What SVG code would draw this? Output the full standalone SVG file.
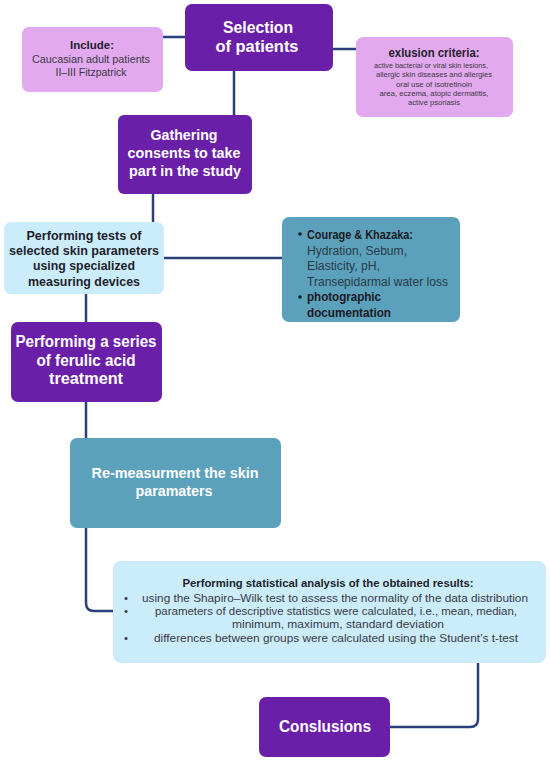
<svg xmlns="http://www.w3.org/2000/svg" width="550" height="762" viewBox="0 0 550 762">
<style>
.purple{fill:#6a1fa9}
.pink{fill:#e3a9ef}
.light{fill:#cbecfb}
.teal{fill:#5ba1bb}
.conn{fill:none;stroke:#2b3f7a;stroke-width:2.5}
text{font-family:"Liberation Sans","Arial",sans-serif;text-anchor:middle}
.wb{fill:#ffffff;font-weight:700}
.db{fill:#1e1e2a;font-weight:700}
.dn{fill:#3a3a44}
.ck{text-anchor:start;font-size:12.5px}
</style>
<rect width="550" height="762" fill="#ffffff"/>
<g id="connectors">
<line class="conn" x1="162" y1="37" x2="186" y2="37"/>
<line class="conn" x1="332" y1="49" x2="357" y2="49"/>
<line class="conn" x1="234" y1="70" x2="234" y2="116"/>
<line class="conn" x1="153" y1="193" x2="153" y2="223"/>
<line class="conn" x1="164" y1="258" x2="282" y2="258"/>
<line class="conn" x1="86" y1="294" x2="86" y2="322"/>
<path class="conn" d="M86 401 V603 Q86 611 94 611 H114"/>
<path class="conn" d="M478 662 V719 Q478 727 470 727 H389"/>
</g>
<g id="selection">
<rect class="purple" x="185" y="4" width="148" height="67" rx="7"/>
<text class="wb" x="258" y="33" font-size="16.5" textLength="70" lengthAdjust="spacingAndGlyphs">Selection</text>
<text class="wb" x="257" y="52" font-size="16.5" textLength="83" lengthAdjust="spacingAndGlyphs">of patients</text>
</g>
<g id="include">
<rect class="pink" x="22" y="27" width="141" height="65" rx="7"/>
<text class="db" x="92" y="49" font-size="11" textLength="44" lengthAdjust="spacingAndGlyphs">Include:</text>
<text class="dn" x="91" y="63" font-size="11" textLength="118" lengthAdjust="spacingAndGlyphs">Caucasian adult patients</text>
<text class="dn" x="91" y="76" font-size="11" textLength="71" lengthAdjust="spacingAndGlyphs">II–III Fitzpatrick</text>
</g>
<g id="exclusion">
<rect class="pink" x="356" y="37" width="157" height="80" rx="7"/>
<text class="db" x="434" y="57" font-size="12" textLength="91" lengthAdjust="spacingAndGlyphs">exlusion criteria:</text>
<text class="dn" x="431" y="68" font-size="8" textLength="114" lengthAdjust="spacingAndGlyphs">active bacterial or viral skin lesions,</text>
<text class="dn" x="434" y="77" font-size="8" textLength="116" lengthAdjust="spacingAndGlyphs">allergic skin diseases and allergies</text>
<text class="dn" x="434" y="87" font-size="8" textLength="76" lengthAdjust="spacingAndGlyphs">oral use of isotretinoin</text>
<text class="dn" x="434" y="96" font-size="8" textLength="109" lengthAdjust="spacingAndGlyphs">area, eczema, atopic dermatitis,</text>
<text class="dn" x="434" y="105" font-size="8" textLength="52" lengthAdjust="spacingAndGlyphs">active psoriasis</text>
</g>
<g id="gathering">
<rect class="purple" x="118" y="115" width="134" height="79" rx="6"/>
<text class="wb" x="184" y="140" font-size="14.5" textLength="67" lengthAdjust="spacingAndGlyphs">Gathering</text>
<text class="wb" x="184" y="158" font-size="14.5" textLength="113" lengthAdjust="spacingAndGlyphs">consents to take</text>
<text class="wb" x="185" y="176" font-size="14.5" textLength="112" lengthAdjust="spacingAndGlyphs">part in the study</text>
</g>
<g id="tests">
<rect class="light" x="4" y="222" width="160" height="72" rx="7"/>
<text class="db" x="84" y="240" font-size="13" textLength="115" lengthAdjust="spacingAndGlyphs">Performing tests of</text>
<text class="db" x="84" y="255" font-size="13" textLength="150" lengthAdjust="spacingAndGlyphs">selected skin parameters</text>
<text class="db" x="84" y="270" font-size="13" textLength="102" lengthAdjust="spacingAndGlyphs">using specialized</text>
<text class="db" x="84" y="286" font-size="13" textLength="112" lengthAdjust="spacingAndGlyphs">measuring devices</text>
</g>
<g id="courage">
<rect class="teal" x="282" y="217" width="178" height="105" rx="7"/>
<circle cx="300" cy="234" r="1.8" fill="#1a1a22"/>
<text class="ck" x="307" y="239" font-weight="700" fill="#1a1a22" textLength="106" lengthAdjust="spacingAndGlyphs">Courage &amp; Khazaka:</text>
<text class="ck" x="307" y="255" fill="#2a3a48" textLength="100" lengthAdjust="spacingAndGlyphs">Hydration, Sebum,</text>
<text class="ck" x="307" y="270" fill="#2a3a48" textLength="73" lengthAdjust="spacingAndGlyphs">Elasticity, pH,</text>
<text class="ck" x="307" y="286" fill="#2a3a48" textLength="141" lengthAdjust="spacingAndGlyphs">Transepidarmal water loss</text>
<circle cx="300" cy="297" r="1.8" fill="#1a1a22"/>
<text class="ck" x="307" y="301" font-weight="700" fill="#1a1a22" textLength="74" lengthAdjust="spacingAndGlyphs">photographic</text>
<text class="ck" x="307" y="317" font-weight="700" fill="#1a1a22" textLength="84" lengthAdjust="spacingAndGlyphs">documentation</text>
</g>
<g id="ferulic">
<rect class="purple" x="11" y="322" width="151" height="80" rx="7"/>
<text class="wb" x="86" y="347" font-size="16" textLength="141" lengthAdjust="spacingAndGlyphs">Performing a series</text>
<text class="wb" x="86" y="366" font-size="16" textLength="99" lengthAdjust="spacingAndGlyphs">of ferulic acid</text>
<text class="wb" x="86" y="384" font-size="16" textLength="74" lengthAdjust="spacingAndGlyphs">treatment</text>
</g>
<g id="remeasure">
<rect class="teal" x="70" y="438" width="211" height="90" rx="7"/>
<text class="wb" x="175" y="478" font-size="14" textLength="167" lengthAdjust="spacingAndGlyphs">Re-measurment the skin</text>
<text class="wb" x="174" y="496" font-size="14" textLength="77" lengthAdjust="spacingAndGlyphs">paramaters</text>
</g>
<g id="statistics">
<rect class="light" x="113" y="561" width="433" height="102" rx="8"/>
<text class="db" x="328" y="587" font-size="11.5" textLength="291" lengthAdjust="spacingAndGlyphs">Performing statistical analysis of the obtained results:</text>
<text class="dn" x="126" y="602" font-size="11.5">•</text>
<text class="dn" x="335" y="602" font-size="11.5" textLength="386" lengthAdjust="spacingAndGlyphs">using the Shapiro–Wilk test to assess the normality of the data distribution</text>
<text class="dn" x="126" y="615" font-size="11.5">•</text>
<text class="dn" x="336" y="615" font-size="11.5" textLength="362" lengthAdjust="spacingAndGlyphs">parameters of descriptive statistics were calculated, i.e., mean, median,</text>
<text class="dn" x="338" y="628" font-size="11.5" textLength="212" lengthAdjust="spacingAndGlyphs">minimum, maximum, standard deviation</text>
<text class="dn" x="126" y="642" font-size="11.5">•</text>
<text class="dn" x="336" y="642" font-size="11.5" textLength="364" lengthAdjust="spacingAndGlyphs">differences between groups were calculated using the Student’s t-test</text>
</g>
<g id="conclusions">
<rect class="purple" x="259" y="697" width="131" height="60" rx="7"/>
<text class="wb" x="325" y="732" font-size="16.5" textLength="92" lengthAdjust="spacingAndGlyphs">Conslusions</text>
</g>
</svg>
